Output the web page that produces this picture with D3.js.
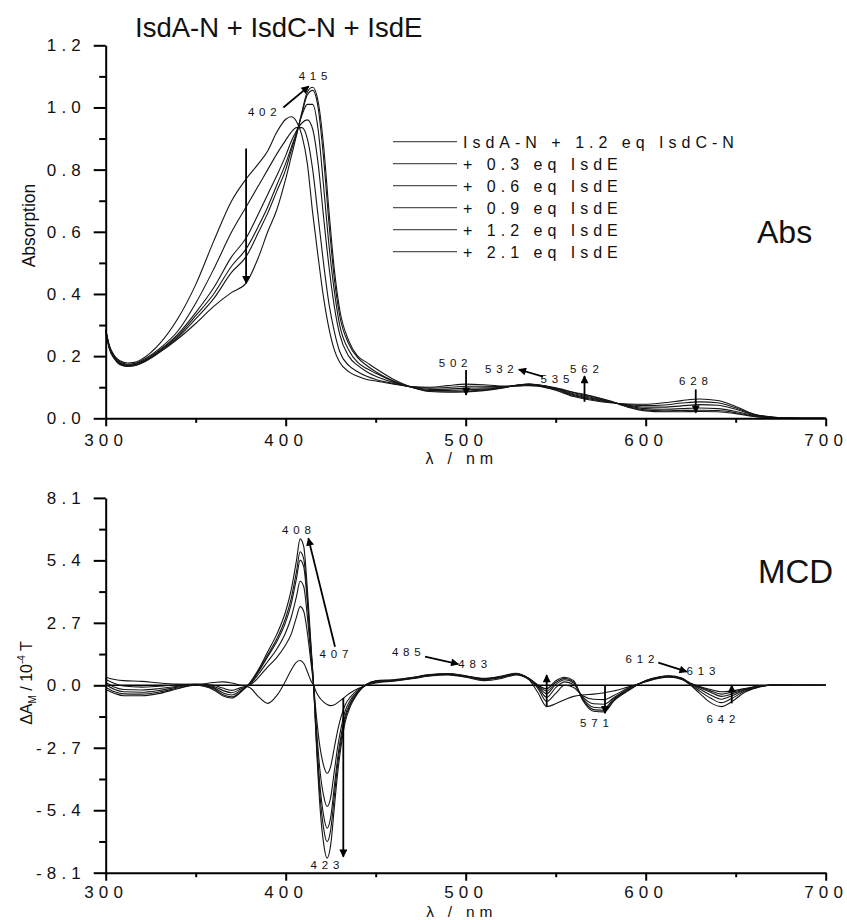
<!DOCTYPE html>
<html><head><meta charset="utf-8">
<script src="https://cdn.jsdelivr.net/npm/d3@7"></script>
<style>
body{margin:0;background:#fff;}
svg{font-family:"Liberation Sans",Arial,sans-serif;}
</style></head><body>
<svg id="c" width="847" height="920"></svg>
<script>
// ---------- DATA ----------
const TITLE = "IsdA-N + IsdC-N + IsdE";
const LEGEND_LABELS = ["IsdA-N + 1.2 eq IsdC-N","+ 0.3 eq IsdE","+ 0.6 eq IsdE","+ 0.9 eq IsdE","+ 1.2 eq IsdE","+ 2.1 eq IsdE"];
const X_TICKS = [300,400,500,600,700];
const X_MINOR = [350,450,550,650];
const ABS_TICKS = [0,0.2,0.4,0.6,0.8,1.0,1.2];
const ABS_MINOR = [0.1,0.3,0.5,0.7,0.9,1.1];
const MCD_TICKS = [-8.1,-5.4,-2.7,0,2.7,5.4,8.1];
const MCD_MINOR = [-6.75,-4.05,-1.35,1.35,4.05,6.75];

const WL_ABS = [300,302,305,308,312,316,320,330,340,350,360,370,378,385,390,395,400,403,406,409,412,415,418,421,424,427,430,435,440,445,450,460,470,480,490,500,510,520,530,535,540,550,560,570,580,590,600,610,620,630,640,650,660,670,680,690,700];
const ABS_0 = [0.285,0.235,0.2,0.185,0.178,0.18,0.19,0.24,0.32,0.43,0.57,0.70,0.77,0.82,0.86,0.92,0.962,0.97,0.955,0.91,0.82,0.66,0.52,0.39,0.29,0.22,0.18,0.15,0.135,0.125,0.12,0.11,0.102,0.1,0.105,0.11,0.108,0.104,0.104,0.105,0.103,0.09,0.07,0.058,0.05,0.046,0.045,0.05,0.057,0.062,0.057,0.038,0.014,0.004,0.001,0,0];
const ABS_1 = [0.285,0.232,0.197,0.181,0.174,0.176,0.186,0.225,0.28,0.37,0.48,0.60,0.68,0.75,0.80,0.85,0.895,0.92,0.935,0.935,0.90,0.80,0.65,0.50,0.37,0.28,0.215,0.17,0.15,0.135,0.125,0.112,0.101,0.097,0.099,0.103,0.103,0.102,0.105,0.107,0.105,0.092,0.073,0.061,0.052,0.044,0.041,0.043,0.049,0.053,0.05,0.034,0.013,0.004,0.001,0,0];
const ABS_2 = [0.284,0.23,0.195,0.178,0.171,0.173,0.183,0.22,0.27,0.34,0.42,0.52,0.58,0.66,0.72,0.78,0.845,0.89,0.925,0.95,0.96,0.93,0.82,0.65,0.49,0.36,0.27,0.2,0.17,0.15,0.135,0.115,0.1,0.093,0.094,0.097,0.098,0.1,0.106,0.108,0.106,0.094,0.076,0.064,0.053,0.042,0.036,0.036,0.04,0.044,0.042,0.029,0.011,0.003,0.001,0,0];
const ABS_3 = [0.283,0.228,0.193,0.176,0.17,0.172,0.181,0.218,0.265,0.33,0.40,0.49,0.545,0.62,0.68,0.75,0.82,0.87,0.92,0.975,1.01,1.01,0.93,0.75,0.56,0.41,0.30,0.22,0.18,0.16,0.145,0.118,0.1,0.09,0.09,0.092,0.094,0.099,0.107,0.109,0.107,0.096,0.079,0.067,0.054,0.04,0.031,0.029,0.031,0.033,0.031,0.022,0.009,0.003,0.001,0,0];
const ABS_4 = [0.282,0.226,0.191,0.174,0.168,0.17,0.179,0.215,0.26,0.32,0.385,0.47,0.52,0.60,0.66,0.73,0.80,0.86,0.915,0.98,1.04,1.055,1.0,0.84,0.63,0.45,0.33,0.24,0.195,0.17,0.15,0.12,0.1,0.088,0.087,0.088,0.091,0.098,0.108,0.11,0.108,0.097,0.082,0.07,0.055,0.038,0.027,0.024,0.025,0.026,0.025,0.018,0.007,0.002,0.001,0,0];
const ABS_5 = [0.281,0.224,0.19,0.172,0.167,0.169,0.177,0.212,0.255,0.305,0.36,0.405,0.435,0.52,0.6,0.67,0.77,0.84,0.91,0.985,1.05,1.065,1.02,0.88,0.67,0.48,0.35,0.25,0.2,0.18,0.16,0.125,0.1,0.086,0.084,0.085,0.089,0.097,0.108,0.11,0.108,0.098,0.084,0.072,0.056,0.036,0.024,0.021,0.021,0.022,0.021,0.015,0.006,0.002,0,0,0];

const WL_MCD = [300,305,310,320,330,340,350,360,365,370,375,380,385,390,395,400,403,406,408,410,412,414,415.5,417,419,421,423,425,427,429,431,433,436,440,445,450,460,470,480,490,500,510,520,528,535,540,545,550,555,560,565,571,577,582,590,600,607,613,620,625,630,636,642,648,655,662,670,680,690,700];
const MCD_0 = [0.35,0.25,0.2,0.17,0.1,0.05,0.03,0.12,0.15,0.1,0.0,-0.1,-0.5,-0.78,-0.45,0.2,0.65,1.0,1.07,0.95,0.6,0.2,0.0,-0.3,-0.55,-0.72,-0.83,-0.88,-0.84,-0.74,-0.62,-0.5,-0.32,-0.15,0.0,0.1,0.18,0.28,0.4,0.45,0.35,0.2,0.3,0.45,0.25,-0.3,-0.92,-0.8,-0.62,-0.48,-0.42,-0.38,-0.32,-0.25,-0.08,0.15,0.3,0.35,0.25,0.0,-0.35,-0.75,-0.92,-0.7,-0.3,-0.1,0.02,0.0,0.01,0.0];
const MCD_1 = [0.25,0.08,-0.03,-0.08,-0.04,0.02,0.05,0.0,-0.12,-0.22,-0.1,0.0,0.35,0.8,1.2,1.75,2.2,2.95,3.4,3.2,2.3,1.0,0.0,-1.3,-2.65,-3.45,-3.8,-3.5,-2.7,-1.9,-1.3,-0.85,-0.5,-0.2,0.03,0.13,0.2,0.3,0.42,0.47,0.37,0.24,0.34,0.47,0.28,-0.12,-0.7,-0.35,0.0,-0.1,-0.45,-0.6,-0.62,-0.45,-0.13,0.17,0.32,0.37,0.27,0.04,-0.25,-0.55,-0.75,-0.56,-0.25,-0.08,0.01,0.01,0.0,0.0];
const MCD_2 = [0.12,-0.08,-0.18,-0.2,-0.14,-0.04,0.04,-0.05,-0.22,-0.32,-0.16,0.03,0.5,1.03,1.56,2.28,2.92,3.84,4.5,4.27,3.0,1.3,0.0,-1.75,-3.65,-4.75,-5.24,-4.84,-3.72,-2.6,-1.75,-1.12,-0.63,-0.25,0.03,0.15,0.21,0.31,0.43,0.48,0.38,0.26,0.36,0.48,0.29,-0.06,-0.52,-0.1,0.15,0.03,-0.5,-0.8,-0.82,-0.55,-0.17,0.18,0.33,0.38,0.28,0.06,-0.16,-0.42,-0.6,-0.45,-0.2,-0.07,0.0,0.01,0.0,0.01];
const MCD_3 = [0.02,-0.18,-0.28,-0.3,-0.22,-0.08,0.03,-0.1,-0.32,-0.42,-0.22,0.06,0.6,1.24,1.88,2.74,3.5,4.62,5.41,5.13,3.6,1.55,0.0,-2.1,-4.3,-5.6,-6.18,-5.7,-4.38,-3.06,-2.07,-1.32,-0.74,-0.29,0.04,0.17,0.22,0.32,0.44,0.49,0.39,0.27,0.37,0.49,0.3,-0.02,-0.36,0.04,0.24,0.1,-0.55,-0.95,-0.98,-0.6,-0.2,0.19,0.34,0.39,0.29,0.07,-0.1,-0.3,-0.48,-0.37,-0.18,-0.06,0.0,0.0,0.01,0.0];
const MCD_4 = [-0.08,-0.28,-0.37,-0.38,-0.29,-0.12,0.01,-0.15,-0.4,-0.5,-0.27,0.08,0.64,1.32,2.0,2.92,3.74,4.92,5.77,5.47,3.83,1.64,0.0,-2.3,-4.7,-6.15,-6.76,-6.24,-4.8,-3.35,-2.26,-1.45,-0.81,-0.32,0.04,0.18,0.23,0.33,0.45,0.5,0.4,0.28,0.38,0.5,0.3,0.0,-0.25,0.12,0.3,0.15,-0.6,-1.05,-1.08,-0.65,-0.22,0.2,0.35,0.4,0.3,0.08,-0.07,-0.24,-0.38,-0.3,-0.16,-0.05,0.01,0.0,0.0,0.0];
const MCD_5 = [-0.18,-0.35,-0.45,-0.45,-0.35,-0.15,0.0,-0.2,-0.45,-0.55,-0.3,0.1,0.7,1.45,2.2,3.2,4.1,5.4,6.33,6.0,4.2,1.8,0.0,-2.5,-5.2,-6.8,-7.47,-6.9,-5.3,-3.7,-2.5,-1.6,-0.9,-0.35,0.05,0.2,0.24,0.34,0.46,0.51,0.41,0.3,0.4,0.52,0.31,0.02,-0.15,0.2,0.35,0.2,-0.65,-1.12,-1.15,-0.7,-0.25,0.21,0.36,0.41,0.31,0.09,-0.05,-0.18,-0.28,-0.24,-0.14,-0.04,0.0,0.01,0.0,0.0];

// annotations (data coordinates)
const ABS_NOTES = [["415",415.2,1.087],["402",387,0.974],["502",493,0.165],["532",518.7,0.145],["535",549.6,0.114],["562",566,0.145],["628",626.5,0.107]];
const ABS_ARROWS = [[398.7,1.0,412.8,1.068],[378,0.868,378,0.435],[500.2,0.155,500.2,0.075],[543,0.134,529.5,0.157],[566,0.053,566,0.136],[627.8,0.093,627.8,0.018]];
const MCD_NOTES = [["408",406,6.54],["407",426.8,1.17],["485",467,1.28],["483",503.9,0.73],["423",421.8,-7.95],["571",571.5,-1.79],["612",596.8,0.95],["613",630.7,0.44],["642",641.8,-1.64]];
const MCD_ARROWS = [[427.4,1.67,412.6,6.35],[477.4,1.24,495.9,0.92],[432,-0.55,432,-7.41],[545,-0.92,545,0.44],[577.4,0.0,577.4,-1.21],[607,0.98,622.8,0.59],[647.8,-0.78,647.8,0.0]];

// ---------- DRAW ----------
const svg = d3.select("#c");
const x = d3.scaleLinear().domain([300,700]).range([105.7,825.7]);
const yA = d3.scaleLinear().domain([0,1.2]).range([418.3,45.3]);
const yM = d3.scaleLinear().domain([-8.1,8.1]).range([872.7,497.9]);

svg.append("defs").append("marker").attr("id","ah")
  .attr("viewBox","0 0 10 10").attr("refX",9).attr("refY",5)
  .attr("markerUnits","userSpaceOnUse").attr("markerWidth",10).attr("markerHeight",8)
  .attr("orient","auto").append("path").attr("d","M0,0L10,5L0,10z").attr("fill","#000");

const LS = 5.2;
function axes(y, major, minor, pad, titleOffset, titleSize){
  const x0 = x(300), yb = y.range()[0];
  const gy = svg.append("g").attr("transform",`translate(${x0},0)`)
    .call(d3.axisLeft(y).tickValues(major).tickSize(12).tickSizeOuter(0).tickPadding(7.7).tickFormat(d=>d.toFixed(1)));
  svg.append("g").attr("transform",`translate(${x0},0)`)
    .call(d3.axisLeft(y).tickValues(minor).tickSize(6.5).tickSizeOuter(0).tickFormat(""))
    .select(".domain").remove();
  const gx = svg.append("g").attr("transform",`translate(0,${yb})`)
    .call(d3.axisBottom(x).tickValues(X_TICKS).tickSize(8).tickSizeOuter(0).tickPadding(pad).tickFormat(d=>String(d)));
  svg.append("g").attr("transform",`translate(0,${yb})`)
    .call(d3.axisBottom(x).tickValues(X_MINOR).tickSize(4.5).tickSizeOuter(0).tickFormat(""))
    .select(".domain").remove();
  svg.selectAll(".domain, .tick line").attr("stroke","#000").attr("stroke-width",2);
  [gy,gx].forEach(g=>g.selectAll("text").attr("font-size",17).attr("fill","#111")
     .attr("font-family","Liberation Sans, Arial, sans-serif").style("letter-spacing",LS+"px"));
  // x title
  svg.append("text").attr("x",x(500)-4).attr("y",yb+titleOffset).attr("text-anchor","middle")
    .attr("font-size",titleSize).style("letter-spacing","4.8px").attr("fill","#111").text("λ / nm");
}

function series(y, wl, sets){
  const line = d3.line().x(d=>x(d[0])).y(d=>y(d[1])).curve(d3.curveMonotoneX);
  sets.forEach(vals=>{
    svg.append("path").datum(wl.map((w,i)=>[w,vals[i]]))
      .attr("d",line).attr("fill","none").attr("stroke","#151515").attr("stroke-width",1.1);
  });
}

function notes(y, labels, arrows){
  labels.forEach(([t,l,v])=>svg.append("text").attr("x",x(l)+2.4).attr("y",y(v))
     .attr("text-anchor","middle").attr("font-size",11.5).style("letter-spacing","4.8px").attr("fill","#111").text(t));
  arrows.forEach(([l1,v1,l2,v2])=>svg.append("line")
     .attr("x1",x(l1)).attr("y1",y(v1)).attr("x2",x(l2)).attr("y2",y(v2))
     .attr("stroke","#000").attr("stroke-width",1.8).attr("marker-end","url(#ah)"));
}

// ---- top: absorption ----
series(yA, WL_ABS, [ABS_0,ABS_1,ABS_2,ABS_3,ABS_4,ABS_5]);
axes(yA, ABS_TICKS, ABS_MINOR, 7.4, 46, 16);
notes(yA, ABS_NOTES, ABS_ARROWS);

// legend
LEGEND_LABELS.forEach((lab,i)=>{
  const yy = 141.7 + i*22;
  svg.append("line").attr("x1",393).attr("x2",457).attr("y1",yy).attr("y2",yy)
    .attr("stroke","#555").attr("stroke-width",1.3);
  svg.append("text").attr("x",463).attr("y",yy+6).attr("font-size",16)
    .style("letter-spacing","5px").attr("fill","#111").text(lab);
});

svg.append("text").attr("x",135).attr("y",37).attr("font-size",27.5).attr("fill","#111").text(TITLE);
svg.append("text").attr("x",757).attr("y",243).attr("font-size",32).attr("fill","#111").text("Abs");
svg.append("text").attr("transform","translate(35,225.5) rotate(-90)").attr("text-anchor","middle")
  .attr("font-size",17.5).attr("fill","#111").text("Absorption");

// ---- bottom: MCD ----
svg.append("line").attr("x1",x(300)).attr("x2",x(700)).attr("y1",yM(0)).attr("y2",yM(0))
  .attr("stroke","#000").attr("stroke-width",1.5);
series(yM, WL_MCD, [MCD_0,MCD_1,MCD_2,MCD_3,MCD_4,MCD_5]);
axes(yM, MCD_TICKS, MCD_MINOR, 5.5, 43.8, 15.5);
notes(yM, MCD_NOTES, MCD_ARROWS);

svg.append("text").attr("x",758).attr("y",583).attr("font-size",33).attr("fill","#111").text("MCD");
const yt = svg.append("text").attr("transform","translate(32,683) rotate(-90)").attr("text-anchor","middle")
  .attr("font-size",16).attr("fill","#111").style("white-space","pre");
yt.append("tspan").text("ΔA");
yt.append("tspan").attr("font-size",10).attr("dy",4).text("M");
yt.append("tspan").attr("dy",-4).text(" / 10");
yt.append("tspan").attr("font-size",10).attr("dy",-7).text("-4");
yt.append("tspan").attr("dy",7).text(" T");
</script>
</body></html>
